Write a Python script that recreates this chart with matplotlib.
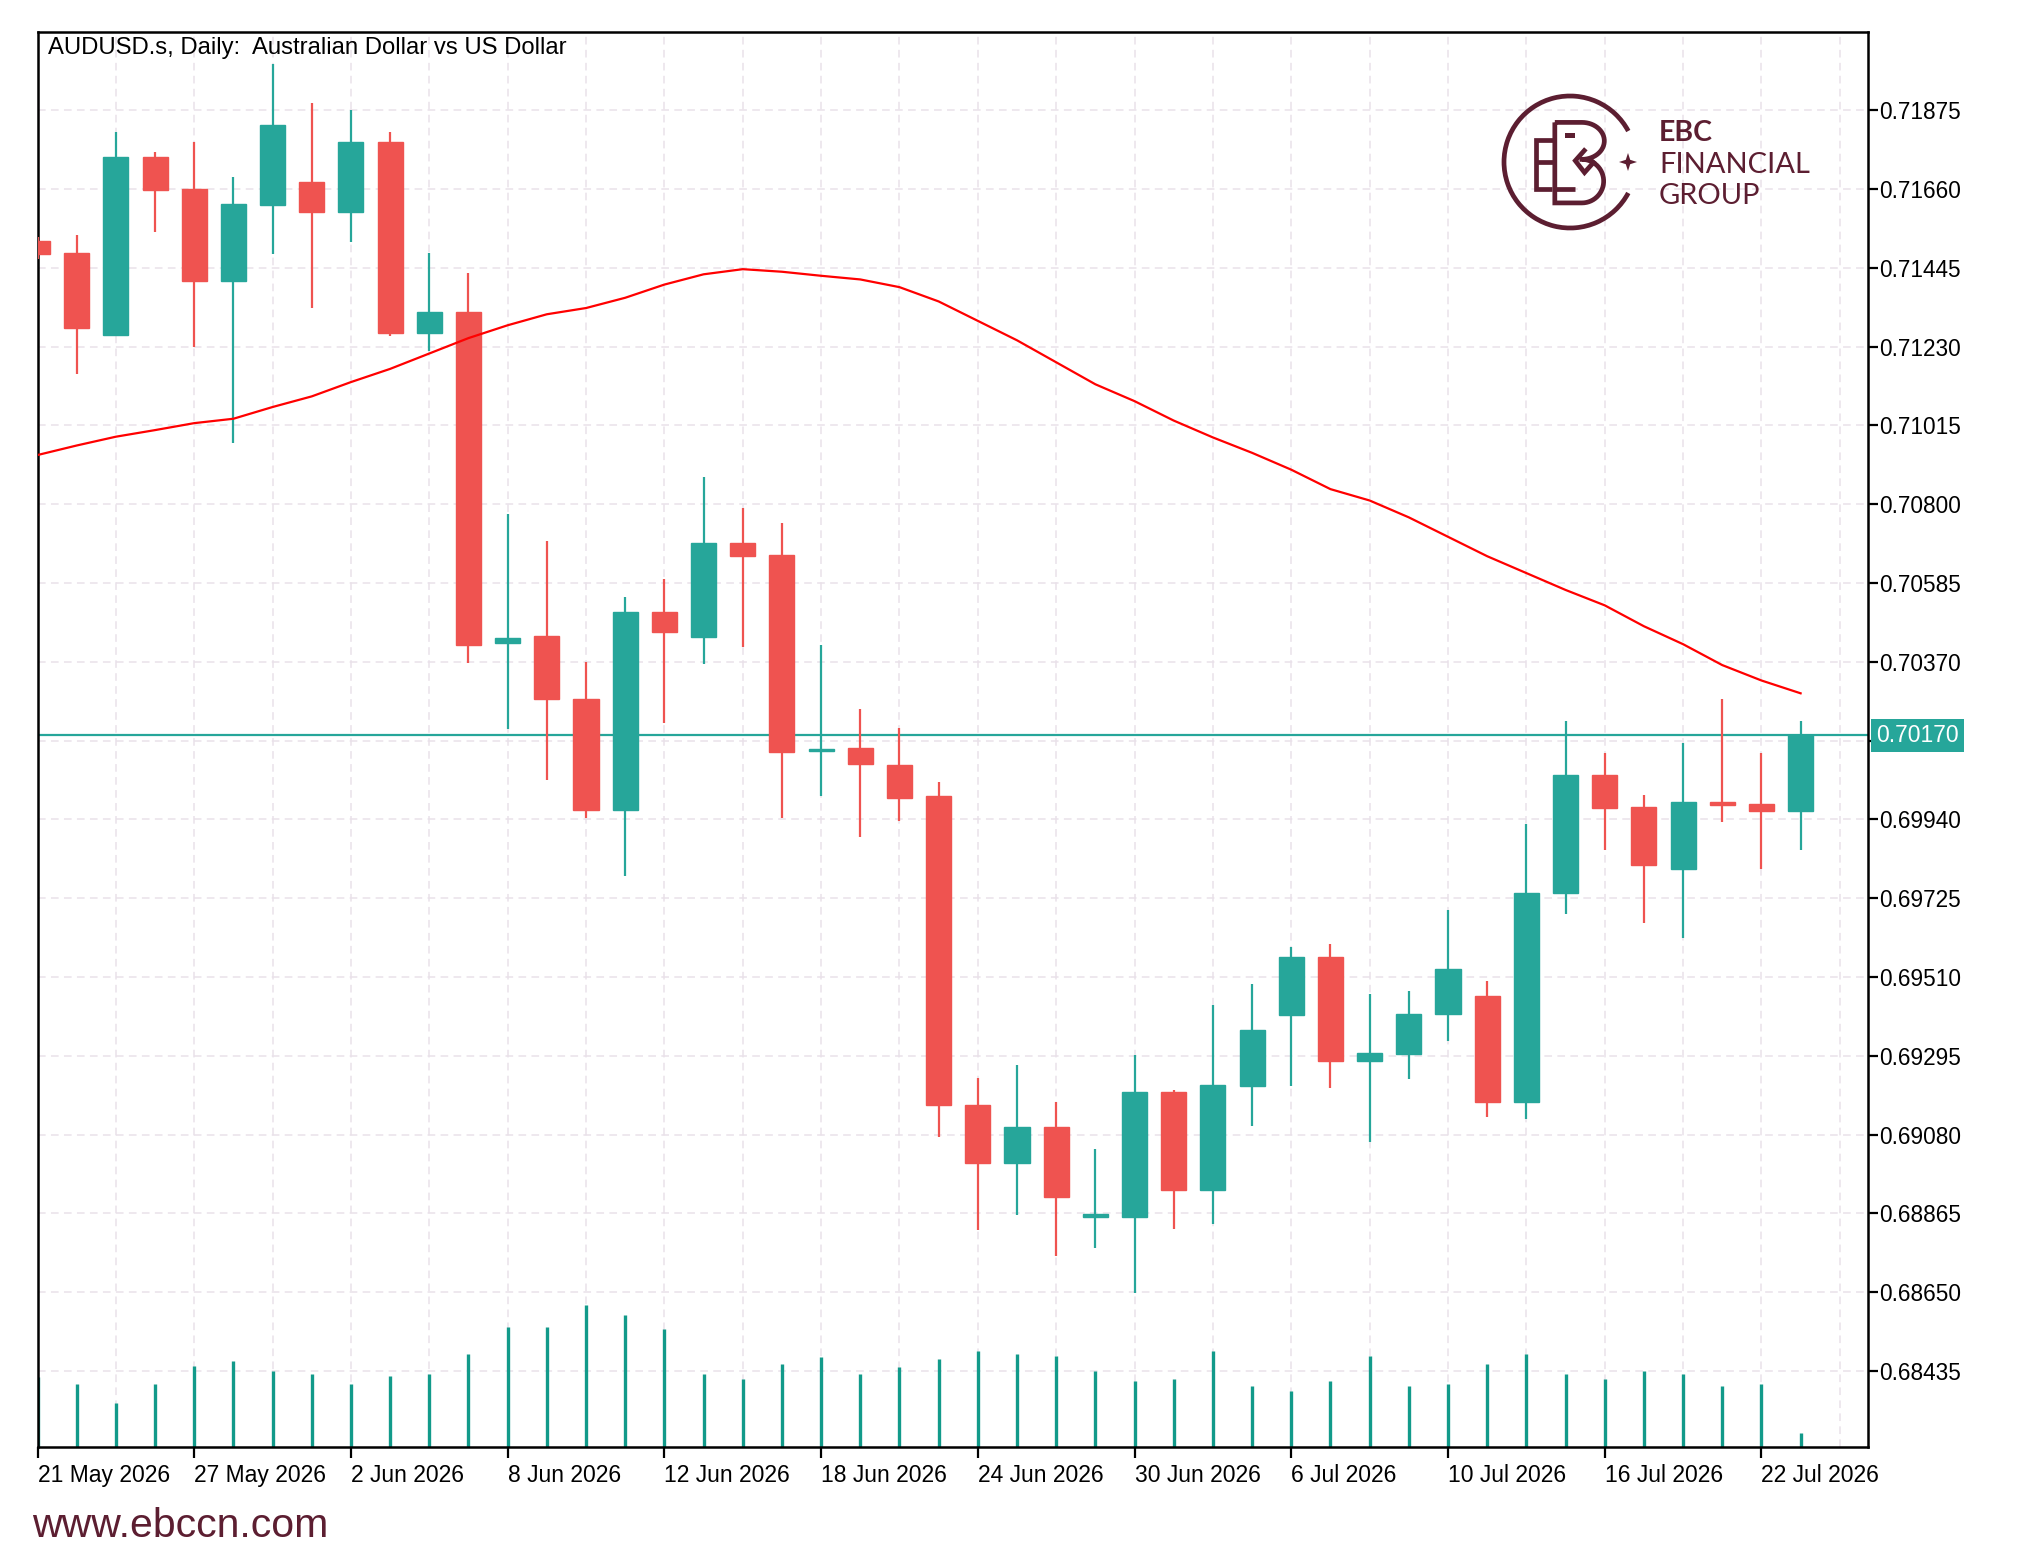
import matplotlib
matplotlib.use("Agg")
import matplotlib.pyplot as plt
import matplotlib.transforms as mtransforms
from matplotlib.patches import Arc, Polygon, Rectangle
import numpy as np

plt.rcParams['font.family'] = ['Liberation Sans', 'DejaVu Sans']

# daily bars, 21 May .. 23 Jul 2026
opens = [0.71519, 0.71485, 0.71262, 0.71747, 0.71660, 0.71408, 0.71617, 0.71679, 0.71597, 0.71787,
         0.71267, 0.71324, 0.70420, 0.70440, 0.70268, 0.69967, 0.70507, 0.70438, 0.70694, 0.70662,
         0.70126, 0.70134, 0.70088, 0.70003, 0.69160, 0.69003, 0.69102, 0.68856, 0.68856, 0.69196,
         0.68930, 0.69213, 0.69407, 0.69565, 0.69281, 0.69301, 0.69409, 0.69459, 0.69170, 0.69738,
         0.70061, 0.69974, 0.69805, 0.69987, 0.69982, 0.69964]
highs = [0.71528, 0.71533, 0.71814, 0.71761, 0.71787, 0.71693, 0.72002, 0.71894, 0.71875, 0.71814,
         0.71485, 0.71430, 0.70773, 0.70700, 0.70369, 0.70547, 0.70595, 0.70875, 0.70789, 0.70748,
         0.70415, 0.70241, 0.70189, 0.70042, 0.69234, 0.69270, 0.69169, 0.69042, 0.69297, 0.69202,
         0.69433, 0.69492, 0.69593, 0.69600, 0.69465, 0.69473, 0.69693, 0.69499, 0.69927, 0.70209,
         0.70121, 0.70007, 0.70148, 0.70268, 0.70121, 0.70209]
lows = [0.71470, 0.71154, 0.71260, 0.71542, 0.71228, 0.70966, 0.71482, 0.71335, 0.71515, 0.71260,
        0.71218, 0.70368, 0.70188, 0.70047, 0.69944, 0.69786, 0.70204, 0.70365, 0.70411, 0.69944,
        0.70005, 0.69892, 0.69937, 0.69073, 0.68821, 0.68862, 0.68749, 0.68770, 0.68648, 0.68823,
        0.68836, 0.69105, 0.69213, 0.69206, 0.69059, 0.69233, 0.69335, 0.69128, 0.69122, 0.69683,
        0.69857, 0.69657, 0.69617, 0.69932, 0.69805, 0.69857]
closes = [0.71482, 0.71281, 0.71747, 0.71658, 0.71408, 0.71619, 0.71834, 0.71597, 0.71787, 0.71267,
          0.71324, 0.70415, 0.70436, 0.70268, 0.69967, 0.70507, 0.70451, 0.70694, 0.70659, 0.70125,
          0.70132, 0.70092, 0.69999, 0.69160, 0.69003, 0.69102, 0.68910, 0.68860, 0.69196, 0.68930,
          0.69215, 0.69365, 0.69565, 0.69281, 0.69303, 0.69410, 0.69533, 0.69170, 0.69740, 0.70061,
          0.69971, 0.69817, 0.69987, 0.69980, 0.69964, 0.70170]
# moving average (red line)
ma = [0.70934, 0.70960, 0.70984, 0.71002, 0.71021, 0.71033, 0.71065, 0.71094, 0.71133, 0.71169,
      0.71211, 0.71253, 0.71288, 0.71318, 0.71335, 0.71363, 0.71399, 0.71427, 0.71441, 0.71434,
      0.71423, 0.71413, 0.71392, 0.71353, 0.71300, 0.71247, 0.71187, 0.71127, 0.71081, 0.71028,
      0.70982, 0.70940, 0.70894, 0.70841, 0.70810, 0.70764, 0.70711, 0.70658, 0.70612, 0.70566,
      0.70524, 0.70467, 0.70418, 0.70361, 0.70319, 0.70284]
# tick volume (thousands)
volumes = [70, 63, 44, 63, 81, 86, 76, 73, 63, 71, 73, 93, 120, 120, 142, 132, 118, 73, 68, 83,
           90, 73, 80, 88, 96, 93, 91, 76, 66, 68, 96, 61, 56, 66, 91, 61, 63, 83, 93, 73,
           68, 76, 73, 61, 63, 14]
date_labels = ['21 May 2026', '27 May 2026', '2 Jun 2026', '8 Jun 2026', '12 Jun 2026', '18 Jun 2026',
               '24 Jun 2026', '30 Jun 2026', '6 Jul 2026', '10 Jul 2026', '16 Jul 2026', '22 Jul 2026']
price_levels = [0.68435, 0.68650, 0.68865, 0.69080, 0.69295, 0.69510, 0.69725, 0.69940, 0.70155,
                0.70370, 0.70585, 0.70800, 0.71015, 0.71230, 0.71445, 0.71660, 0.71875]
last_price = 0.70170

UP = '#26a69a'
DOWN = '#ef5350'
BRAND = '#5c1e31'
W, H = 2028, 1564

fig = plt.figure(figsize=(W / 100, H / 100), dpi=100)
fig.patch.set_facecolor('white')

x0, x1, yt, yb = 37.5, 1868, 32, 1447
ax = fig.add_axes([x0 / W, (H - yb) / H, (x1 - x0) / W, (yb - yt) / H])

n = len(opens)
xs = np.arange(n)

# grid
grid_kw = dict(color='#e9e1ea', lw=1.1, dashes=(5, 3.5), zorder=0)
for lv in price_levels:
    ax.axhline(lv, **grid_kw)
for gx in range(2, 47, 2):
    ax.axvline(gx, **grid_kw)

# volumes, scaled in pixels from the bottom of the chart
vol_tr = mtransforms.blended_transform_factory(ax.transData, ax.transAxes)
ax.vlines(xs, 0, np.array(volumes) / (yb - yt), color='#129a8a', lw=2.4,
          transform=vol_tr, zorder=2)

ax.axhline(last_price, color=UP, lw=1.6, zorder=1)

# candles
body_w = 0.64
for i in range(n):
    o, h, l, c = opens[i], highs[i], lows[i], closes[i]
    col = UP if c >= o else DOWN
    ax.vlines(i, l, h, color=col, lw=1.6, zorder=3)
    bot = min(o, c)
    ht = max(abs(c - o), 0.00007)
    ax.add_patch(Rectangle((i - body_w / 2, bot), body_w, ht, facecolor=col,
                           edgecolor=col, lw=1, zorder=4))

ax.plot(xs, ma, color='#ff0000', lw=1.6, zorder=5)

ax.set_xlim(0, 46.72)
ax.set_ylim(0.68228, 0.72088)

ax.yaxis.tick_right()
ax.set_yticks(price_levels)
ax.set_yticklabels(['' if abs(v - 0.70155) < 1e-7 else '%.5f' % v for v in price_levels])
ax.tick_params(axis='y', length=7, width=1.6, pad=1, labelsize=16.3, colors='black')
ax.set_xticks(range(0, 45, 4))
ax.set_xticklabels(date_labels, ha='left')
ax.tick_params(axis='x', length=8, width=1.6, pad=4, labelsize=16.5)
for s in ax.spines.values():
    s.set_linewidth(1.8)
    s.set_color('black')

ax.text(1 + 8 / (x1 - x0), last_price, '%.5f' % last_price,
        transform=mtransforms.blended_transform_factory(ax.transAxes, ax.transData),
        va='center', ha='left', color='white', fontsize=16.5, zorder=10, clip_on=False,
        bbox=dict(boxstyle='square,pad=0.22', fc=UP, ec='none'))

fig.text(48 / W, 1 - 37 / H, 'AUDUSD.s, Daily:  Australian Dollar vs US Dollar',
         fontsize=17.2, va='top', ha='left', color='black')

# logo
cx, cy, r = 1570, 162, 66
lax = fig.add_axes([(cx - 90) / W, (H - cy - 90) / H, 180 / W, 180 / H])
lax.set_xlim(-90, 90)
lax.set_ylim(-90, 90)
lax.axis('off')
lw = 3.4
lax.add_patch(Arc((0, 0), 2 * r, 2 * r, theta1=28, theta2=332, color=BRAND, lw=lw))
s = r
def seg(pts):
    p = np.array(pts) * s
    lax.plot(p[:, 0], p[:, 1], color=BRAND, lw=lw, solid_capstyle='butt', solid_joinstyle='miter')
seg([(-0.23, 0.34), (-0.52, 0.34), (-0.52, -0.41), (-0.27, -0.41)])
seg([(-0.52, 0.0), (-0.23, 0.0)])
seg([(-0.23, -0.41), (0.08, -0.41)])
t = np.linspace(np.pi / 2, -np.pi / 2, 30)
up = [(-0.23, 0.6)] + [(0.18 + 0.34 * np.cos(a), 0.32 + 0.28 * np.sin(a)) for a in t]
lo = [(0.18 + 0.33 * np.cos(a), -0.29 + 0.33 * np.sin(a)) for a in t] + [(-0.23, -0.62), (-0.23, 0.6)]
seg(up + lo)
seg([(0.24, 0.2), (0.08, 0.02), (0.22, -0.16), (0.38, 0.02)])
lax.add_patch(Rectangle((-0.07 * s, 0.37 * s), 0.15 * s, 0.07 * s, color=BRAND, lw=0))
sx = 58
star = [(sx, 9), (sx + 2.2, 2.2), (sx + 9, 0), (sx + 2.2, -2.2), (sx, -9), (sx - 2.2, -2.2),
        (sx - 9, 0), (sx - 2.2, 2.2)]
lax.add_patch(Polygon(star, closed=True, color=BRAND, lw=0))

fig.text(1659 / W, 1 - 141 / H, 'EBC', fontsize=20.5, fontweight='bold', color=BRAND,
         family='Lato', va='baseline')
fig.text(1659 / W, 1 - 173 / H, 'FINANCIAL', fontsize=21, color=BRAND, family='Lato', va='baseline')
fig.text(1659 / W, 1 - 204 / H, 'GROUP', fontsize=21, color=BRAND, family='Lato', va='baseline')

fig.text(32 / W, 1 - 1526 / H, 'www.ebccn.com', fontsize=29.5, color=BRAND, va='center', ha='left')

fig.savefig('out.png', dpi=100, facecolor='white')
